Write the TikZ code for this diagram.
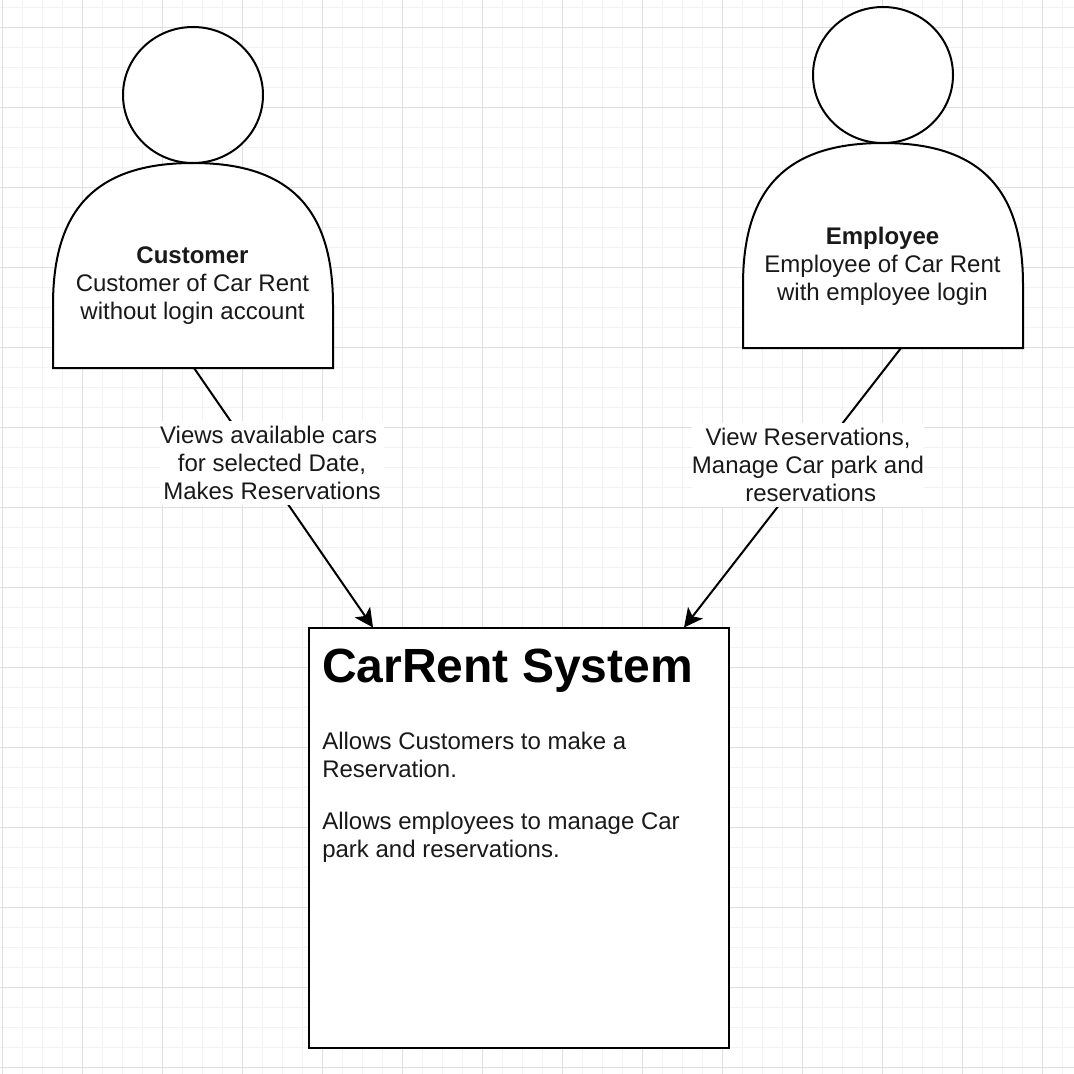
\documentclass[tikz,border=0pt]{standalone}
\usepackage{fontspec}
\setmainfont{Liberation Sans}
\usetikzlibrary{arrows.meta}
\tikzset{
  minorgrid/.style={draw=black!5,line width=0.75pt},
  majorgrid/.style={draw=black!12,line width=0.75pt},
  shapeline/.style={draw=black,fill=white,line width=1.5pt},
  bodytext/.style={inner sep=0pt,align=center,font=\fontsize{18}{21}\selectfont,text=black!90},
  edgelabel/.style={fill=white,inner sep=0pt,align=center,font=\fontsize{18}{21}\selectfont,text=black!90,minimum height=63pt},
  linkarrow/.style={draw=black,line width=1.5pt,-{Stealth[length=14pt,width=14pt,inset=3.5pt]}},
}
\begin{document}
\begin{tikzpicture}[x=0.75pt,y=-0.75pt]
\useasboundingbox (0,0) rectangle (1074,1074);
\fill[white] (0,0) rectangle (1074,1074);
% grid
\foreach \k in {0,...,53}{
  \pgfmathsetmacro{\px}{2.5+20*\k}
  \pgfmathsetmacro{\py}{7.5+20*\k}
  \draw[minorgrid] (\px,0) -- (\px,1074);
  \draw[minorgrid] (0,\py) -- (1074,\py);
}
\foreach \k in {0,...,13}{
  \pgfmathsetmacro{\px}{2.5+80*\k}
  \pgfmathsetmacro{\py}{27.5+80*\k}
  \draw[majorgrid] (\px,0) -- (\px,1074);
  \draw[majorgrid] (0,\py) -- (1074,\py);
}
% connector end points
\coordinate (custOut) at (194,368);
\coordinate (sysInA) at (373,627.5);
\coordinate (empOut) at (901,348);
\coordinate (sysInB) at (684,627.5);
% connectors
\draw[linkarrow] (custOut) -- (sysInA);
\draw[linkarrow] (empOut) -- (sysInB);
% customer
\draw[shapeline] (53,368) -- (53,305) .. controls (53,210) and (95,163) .. (193,163)
  .. controls (291,163) and (333,210) .. (333,305) -- (333,368) -- cycle;
\draw[shapeline] (193,95) ellipse [x radius=70,y radius=68];
\node[bodytext] (customer) at (192.5,286) {\textbf{Customer}\\Customer of Car Rent\\without login account};
% employee
\draw[shapeline] (743,348) -- (743,285) .. controls (743,190) and (785,143) .. (883,143)
  .. controls (981,143) and (1023,190) .. (1023,285) -- (1023,348) -- cycle;
\draw[shapeline] (883,75) ellipse [x radius=70,y radius=68];
\node[bodytext] (employee) at (882.5,266) {\textbf{Employee}\\Employee of Car Rent\\with employee login};
% labels
\node[edgelabel,minimum width=168pt] (labelA) at (272,463) {Views available cars\hspace*{5pt}\\for selected Date,\hspace*{5pt}\\Makes Reservations};
\node[edgelabel,minimum width=174pt] (labelB) at (808,465) {View Reservations,\\Manage Car park and\\\hspace*{4pt}reservations};
% system
\node[shapeline,minimum width=315pt,minimum height=315pt,inner sep=0pt] (system) at (519,838) {};
\node[anchor=base west,inner sep=0pt,font=\fontsize{36}{40}\selectfont\bfseries] (title) at (322,682) {CarRent System};
\node[anchor=north west,inner sep=0pt,align=left,text=black!90,font=\fontsize{18}{21}\selectfont] (desc) at (322,732)
  {Allows Customers to make a\\Reservation.\\[18pt]Allows employees to manage Car\\park and reservations.};
\end{tikzpicture}
\end{document}
